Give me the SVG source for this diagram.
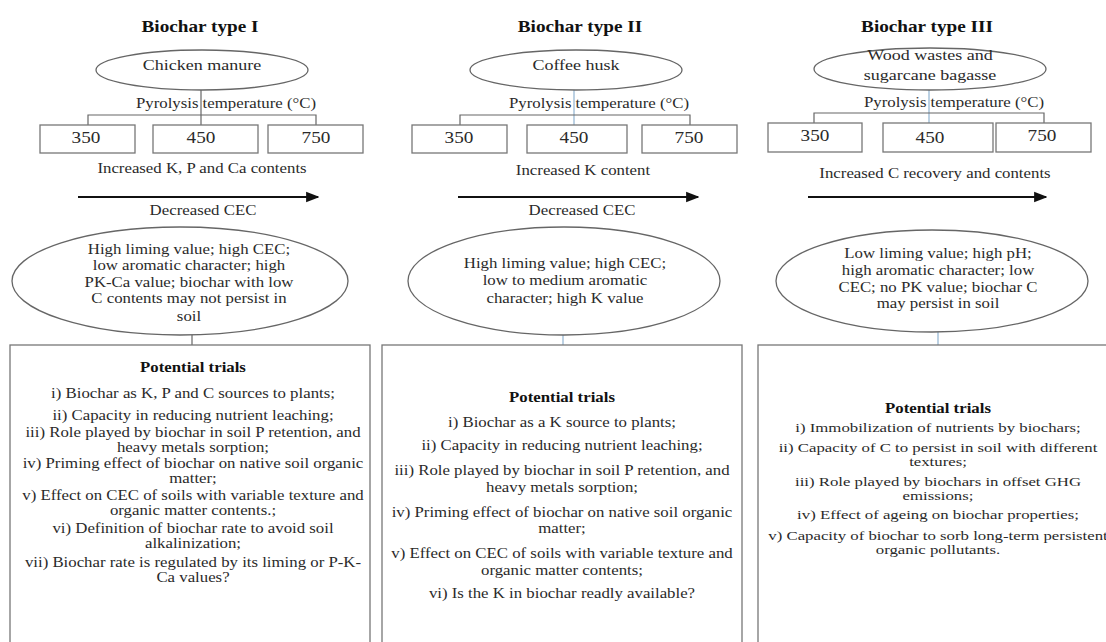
<svg xmlns="http://www.w3.org/2000/svg" width="1106" height="642" viewBox="0 0 1106 642" font-family="'Liberation Serif', 'DejaVu Serif', serif">
<defs>
<marker id="arr" viewBox="0 0 10 10" refX="9" refY="5" markerWidth="6" markerHeight="6" orient="auto" markerUnits="strokeWidth">
<path d="M0,1 L10,5 L0,9 Z" fill="#111"/>
</marker>
<style>
text{font-family:'Liberation Serif','DejaVu Serif',serif;fill:#2a2a2a;text-anchor:middle}
.title{font-size:16px;font-weight:bold;fill:#111}
.src{font-size:15px}
.lbl{font-size:14px}
.num{font-size:16px}
.body{font-size:14px}
.small{font-size:13px}
.hd{font-size:14px;font-weight:bold;fill:#111}
.shape{fill:#fff;stroke:#666;stroke-width:1.3}
.box{fill:#fff;stroke:#777;stroke-width:1.3}
.ln{stroke:#666;stroke-width:1.2;fill:none}
.blue{stroke:#8fb3d0;stroke-width:1.2;fill:none}
.arrow{stroke:#111;stroke-width:2.2;fill:none}
</style>
</defs>
<rect width="1106" height="642" fill="#fff"/>

<g id="connectors">
<line class="ln" x1="201" y1="90" x2="201" y2="125"/>
<polyline class="ln" points="88,125 88,115 316,115 316,125"/>
<line class="ln" x1="192" y1="335" x2="192" y2="345"/>
<line class="arrow" x1="78" y1="197" x2="318" y2="197" marker-end="url(#arr)"/>
<line class="blue" x1="574" y1="90" x2="574" y2="125"/>
<polyline class="ln" points="460,125 460,115 690,115 690,125"/>
<line class="blue" x1="563" y1="335" x2="563" y2="345"/>
<line class="arrow" x1="458" y1="197" x2="698" y2="197" marker-end="url(#arr)"/>
<line class="blue" x1="929" y1="90" x2="929" y2="123"/>
<polyline class="ln" points="814,123 814,113 1044,113 1044,123"/>
<line class="blue" x1="938" y1="332" x2="938" y2="345"/>
<line class="arrow" x1="808" y1="197" x2="1046" y2="197" marker-end="url(#arr)"/>
</g>

<!-- Column 1 -->
<g id="col1-title"><text class="title" x="200" y="32" transform="matrix(1.2 0 0 1 -40 0)">Biochar type I</text></g>
<g id="col1-source">
<ellipse class="shape" cx="202" cy="70" rx="106" ry="20"/>
<text class="src" x="202" y="70" transform="matrix(1.2 0 0 1 -40.4 0)">Chicken manure</text>
</g>
<g id="col1-pyro"><text class="lbl" x="226" y="108" transform="matrix(1.2 0 0 1 -45.2 0)">Pyrolysis temperature (°C)</text></g>
<g id="col1-t350"><rect class="box" x="40" y="125" width="95" height="28"/><text class="num" x="86" y="143" transform="matrix(1.2 0 0 1 -17.2 0)">350</text></g>
<g id="col1-t450"><rect class="box" x="153" y="125" width="105" height="28"/><text class="num" x="201" y="143" transform="matrix(1.2 0 0 1 -40.2 0)">450</text></g>
<g id="col1-t750"><rect class="box" x="268" y="125" width="95" height="28"/><text class="num" x="316" y="143" transform="matrix(1.2 0 0 1 -63.2 0)">750</text></g>
<g id="col1-trend">
<text class="lbl" x="202" y="173" transform="matrix(1.2 0 0 1 -40.4 0)">Increased  K, P and Ca contents</text>
<text class="lbl" x="203" y="215" transform="matrix(1.2 0 0 1 -40.6 0)">Decreased  CEC</text>
</g>
<g id="col1-props">
<ellipse class="shape" cx="180" cy="281" rx="168" ry="54"/>
<g transform="matrix(1.2 0 0 1 -37.8 0)">
<text class="body" x="189" y="254">High liming value; high CEC;</text>
<text class="body" x="189" y="270">low aromatic character; high</text>
<text class="body" x="189" y="287">PK-Ca value; biochar with low</text>
<text class="body" x="189" y="303">C contents may not persist in</text>
<text class="body" x="189" y="321">soil</text>
</g>
</g>
<g id="col1-trials">
<rect class="box" x="10" y="345" width="360" height="310"/>
<g transform="matrix(1.2 0 0 1 -38.6 0)">
<text class="hd" x="193" y="372">Potential trials</text>
<text class="body" x="193" y="398">i) Biochar as K, P and C sources to plants;</text>
<text class="body" x="193" y="420">ii) Capacity in reducing nutrient leaching;</text>
<text class="body" x="193" y="437">iii) Role played by biochar in soil P retention, and</text>
<text class="body" x="193" y="452">heavy metals sorption;</text>
<text class="body" x="193" y="468">iv) Priming effect of biochar on native soil organic</text>
<text class="body" x="193" y="483">matter;</text>
<text class="body" x="193" y="500">v) Effect on CEC of soils with variable texture and</text>
<text class="body" x="193" y="515">organic matter contents.;</text>
<text class="body" x="193" y="533">vi) Definition of biochar rate to avoid soil</text>
<text class="body" x="193" y="548">alkalinization;</text>
<text class="body" x="193" y="567">vii) Biochar rate is regulated  by its liming or P-K-</text>
<text class="body" x="193" y="582">Ca values?</text>
</g>
</g>

<!-- Column 2 -->
<g id="col2-title"><text class="title" x="580" y="32" transform="matrix(1.2 0 0 1 -116 0)">Biochar type II</text></g>
<g id="col2-source">
<ellipse class="shape" cx="576" cy="70" rx="106" ry="20"/>
<text class="src" x="576" y="70" transform="matrix(1.2 0 0 1 -115.2 0)">Coffee husk</text>
</g>
<g id="col2-pyro"><text class="lbl" x="599" y="108" transform="matrix(1.2 0 0 1 -119.8 0)">Pyrolysis temperature (°C)</text></g>
<g id="col2-t350"><rect class="box" x="412" y="125" width="95" height="28"/><text class="num" x="459" y="143" transform="matrix(1.2 0 0 1 -91.8 0)">350</text></g>
<g id="col2-t450"><rect class="box" x="527" y="125" width="100" height="28"/><text class="num" x="574" y="143" transform="matrix(1.2 0 0 1 -114.8 0)">450</text></g>
<g id="col2-t750"><rect class="box" x="642" y="125" width="95" height="28"/><text class="num" x="689" y="143" transform="matrix(1.2 0 0 1 -137.8 0)">750</text></g>
<g id="col2-trend">
<text class="lbl" x="583" y="175" transform="matrix(1.2 0 0 1 -116.6 0)">Increased  K content</text>
<text class="lbl" x="582" y="215" transform="matrix(1.2 0 0 1 -116.4 0)">Decreased  CEC</text>
</g>
<g id="col2-props">
<ellipse class="shape" cx="564" cy="281" rx="156" ry="54"/>
<g transform="matrix(1.2 0 0 1 -113 0)">
<text class="body" x="565" y="268">High liming value;  high CEC;</text>
<text class="body" x="565" y="285">low to medium aromatic</text>
<text class="body" x="565" y="303">character; high K value</text>
</g>
</g>
<g id="col2-trials">
<rect class="box" x="382" y="345" width="360" height="310"/>
<g transform="matrix(1.2 0 0 1 -112.4 0)">
<text class="hd" x="562" y="402">Potential trials</text>
<text class="body" x="562" y="427">i) Biochar as a K source to plants;</text>
<text class="body" x="562" y="450">ii) Capacity in reducing nutrient leaching;</text>
<text class="body" x="562" y="475">iii) Role played by biochar in soil P retention, and</text>
<text class="body" x="562" y="492">heavy metals sorption;</text>
<text class="body" x="562" y="517">iv) Priming effect of biochar on native soil organic</text>
<text class="body" x="562" y="533">matter;</text>
<text class="body" x="562" y="558">v) Effect on CEC of soils with variable texture and</text>
<text class="body" x="562" y="575">organic matter contents;</text>
<text class="body" x="562" y="598">vi) Is the K in biochar readly available?</text>
</g>
</g>

<!-- Column 3 -->
<g id="col3-title"><text class="title" x="927" y="32" transform="matrix(1.2 0 0 1 -185.4 0)">Biochar type III</text></g>
<g id="col3-source">
<ellipse class="shape" cx="930" cy="69" rx="116" ry="21"/>
<g transform="matrix(1.2 0 0 1 -186 0)">
<text class="src" x="930" y="60">Wood wastes and</text>
<text class="src" x="930" y="80">sugarcane bagasse</text>
</g>
</g>
<g id="col3-pyro"><text class="lbl" x="954" y="107" transform="matrix(1.2 0 0 1 -190.8 0)">Pyrolysis temperature (°C)</text></g>
<g id="col3-t350"><rect class="box" x="768" y="123" width="94" height="29"/><text class="num" x="815" y="141" transform="matrix(1.2 0 0 1 -163 0)">350</text></g>
<g id="col3-t450"><rect class="box" x="883" y="123" width="110" height="29"/><text class="num" x="930" y="143" transform="matrix(1.2 0 0 1 -186 0)">450</text></g>
<g id="col3-t750"><rect class="box" x="996" y="123" width="95" height="29"/><text class="num" x="1042" y="141" transform="matrix(1.2 0 0 1 -208.4 0)">750</text></g>
<g id="col3-trend">
<text class="lbl" x="935" y="178" transform="matrix(1.2 0 0 1 -187 0)">Increased  C recovery and  contents</text>
</g>
<g id="col3-props">
<ellipse class="shape" cx="932" cy="281" rx="156" ry="51"/>
<g transform="matrix(1.2 0 0 1 -187.6 0)">
<text class="body" x="938" y="258">Low liming value;  high pH;</text>
<text class="body" x="938" y="275">high aromatic character; low</text>
<text class="body" x="938" y="292">CEC; no PK value; biochar C</text>
<text class="body" x="938" y="308">may persist in soil</text>
</g>
</g>
<g id="col3-trials">
<rect class="box" x="758" y="345" width="360" height="310"/>
<text class="hd" x="938" y="413" transform="matrix(1.2 0 0 1 -187.6 0)">Potential trials</text>
<g transform="matrix(1.29 0 0 1 -272 0)">
<text class="small" x="938" y="432">i) Immobilization of nutrients by biochars;</text>
<text class="small" x="938" y="452">ii) Capacity of C to persist in soil with different</text>
<text class="small" x="938" y="466">textures;</text>
<text class="small" x="938" y="486">iii) Role played by biochars in offset GHG</text>
<text class="small" x="938" y="500">emissions;</text>
<text class="small" x="938" y="519">iv) Effect of ageing on biochar properties;</text>
<text class="small" x="938" y="540">v) Capacity of biochar to sorb long-term persistent</text>
<text class="small" x="938" y="554">organic pollutants.</text>
</g>
</g>
</svg>
